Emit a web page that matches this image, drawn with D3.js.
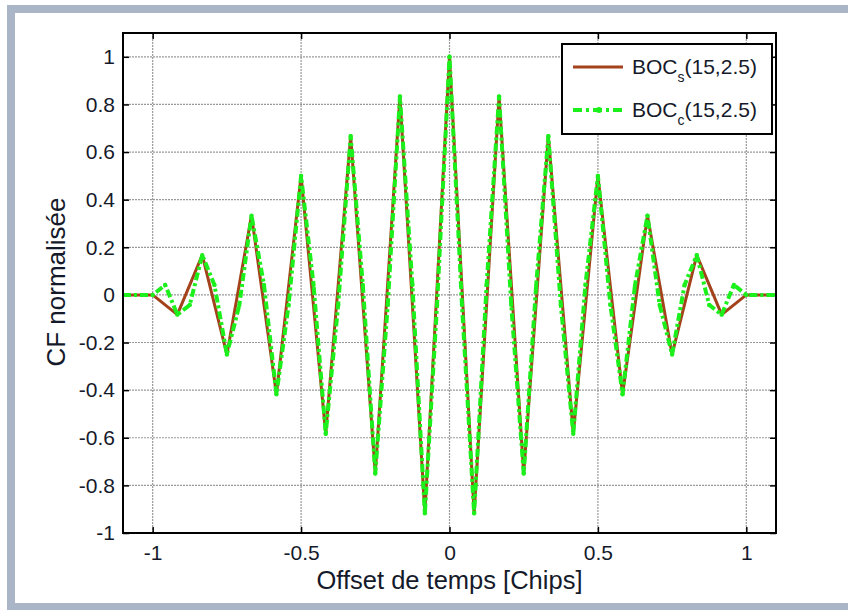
<!DOCTYPE html>
<html>
<head>
<meta charset="utf-8">
<script src="https://cdn.jsdelivr.net/npm/d3@7/dist/d3.min.js"></script>
<style>
  html, body { margin: 0; padding: 0; background: #ffffff; }
  svg { display: block; }
</style>
</head>
<body>
<svg id="chart" width="848" height="610"></svg>
<script>
// Delay axis (chips) and normalised correlation values, BOCs(15,2.5)
const lagSine = [-1.1, -1, -0.917, -0.833, -0.75, -0.667, -0.583, -0.5, -0.417, -0.333, -0.25, -0.167, -0.083,
  0, 0.083, 0.167, 0.25, 0.333, 0.417, 0.5, 0.583, 0.667, 0.75, 0.833, 0.917, 1, 1.1];
const cfSine = [0, 0, -0.083, 0.167, -0.25, 0.333, -0.417, 0.5, -0.583, 0.667, -0.75, 0.833, -0.917,
  1, -0.917, 0.833, -0.75, 0.667, -0.583, 0.5, -0.417, 0.333, -0.25, 0.167, -0.083, 0, 0];

// Delay axis (chips) and normalised correlation values, BOCc(15,2.5)
const lagCos = [-1.1, -1, -0.958, -0.917, -0.875, -0.833, -0.792, -0.75, -0.708, -0.667, -0.625, -0.583, -0.542,
  -0.5, -0.458, -0.417, -0.375, -0.333, -0.292, -0.25, -0.208, -0.167, -0.125, -0.083, -0.042,
  0, 0.042, 0.083, 0.125, 0.167, 0.208, 0.25, 0.292, 0.333, 0.375, 0.417, 0.458, 0.5,
  0.542, 0.583, 0.625, 0.667, 0.708, 0.75, 0.792, 0.833, 0.875, 0.917, 0.958, 1, 1.1];
const cfCos = [0, 0, 0.042, -0.083, -0.042, 0.167, 0.042, -0.25, -0.042, 0.333, 0.042, -0.417, -0.042,
  0.5, 0.042, -0.583, -0.042, 0.667, 0.042, -0.75, -0.042, 0.833, 0.042, -0.917, -0.042,
  1, -0.042, -0.917, 0.042, 0.833, -0.042, -0.75, 0.042, 0.667, -0.042, -0.583, 0.042, 0.5,
  -0.042, -0.417, 0.042, 0.333, -0.042, -0.25, 0.042, 0.167, -0.042, -0.083, 0.042, 0, 0];

const xTicks = [-1, -0.5, 0, 0.5, 1];
const yTicks = [-1, -0.8, -0.6, -0.4, -0.2, 0, 0.2, 0.4, 0.6, 0.8, 1];

const seriesNames = ["s", "c"];

const FONT = "'Liberation Sans', Arial, Helvetica, sans-serif";
const TEXT_COLOR = "#151a2a";
const BROWN = "#a3421b";
const GREEN = "#1cf01c";

const svg = d3.select("#chart");

// Page frame
svg.append("rect").attr("x", 0).attr("y", 0).attr("width", 848).attr("height", 610).attr("fill", "#ffffff");
const frame = "#aab5c8";
svg.append("rect").attr("x", 7).attr("y", 5).attr("width", 841).attr("height", 8).attr("fill", frame);
svg.append("rect").attr("x", 7).attr("y", 5).attr("width", 8).attr("height", 605).attr("fill", frame);
svg.append("rect").attr("x", 7).attr("y", 603).attr("width", 841).attr("height", 7).attr("fill", frame);

const plot = { left: 123, right: 776, top: 33, bottom: 533 };

const x = d3.scaleLinear().domain([-1.1, 1.1]).range([plot.left, plot.right]);
const y = d3.scaleLinear().domain([-1, 1.1]).range([plot.bottom, plot.top]);

// Grid
const grid = svg.append("g").attr("stroke", "#999999").attr("stroke-width", 1.2).attr("stroke-dasharray", "2,1");
grid.selectAll("line.gx").data(xTicks).join("line")
  .attr("x1", d => x(d)).attr("x2", d => x(d))
  .attr("y1", plot.top).attr("y2", plot.bottom);
grid.selectAll("line.gy").data(yTicks).join("line")
  .attr("y1", d => y(d)).attr("y2", d => y(d))
  .attr("x1", plot.left).attr("x2", plot.right);

const fmt = d => (d === 0 ? "0" : String(+d.toFixed(1)));

function styleAxis(g) {
  g.select(".domain").remove();
  g.selectAll(".tick line").attr("stroke", "#000").attr("stroke-width", 1.5);
  g.selectAll(".tick text").attr("fill", TEXT_COLOR).style("font-family", FONT).style("font-size", "21px");
}

svg.append("g").attr("transform", `translate(0,${plot.bottom})`)
  .call(d3.axisBottom(x).tickValues(xTicks).tickFormat(fmt).tickSize(-6).tickPadding(12))
  .call(styleAxis);
svg.append("g").attr("transform", `translate(${plot.left},0)`)
  .call(d3.axisLeft(y).tickValues(yTicks).tickFormat(fmt).tickSize(-6).tickPadding(8))
  .call(styleAxis);
svg.append("g").attr("transform", `translate(0,${plot.top})`)
  .call(d3.axisTop(x).tickValues(xTicks).tickFormat("").tickSize(-6))
  .call(styleAxis);
svg.append("g").attr("transform", `translate(${plot.right},0)`)
  .call(d3.axisRight(y).tickValues(yTicks).tickFormat("").tickSize(-6))
  .call(styleAxis);

// Curves
svg.append("clipPath").attr("id", "plotClip").append("rect")
  .attr("x", plot.left).attr("y", plot.top)
  .attr("width", plot.right - plot.left).attr("height", plot.bottom - plot.top);

const line = d3.line().x(d => x(d[0])).y(d => y(d[1]));
const sineData = lagSine.map((t, i) => [t, cfSine[i]]);
const cosData = lagCos.map((t, i) => [t, cfCos[i]]);

const curves = svg.append("g").attr("clip-path", "url(#plotClip)");
curves.append("path").datum(sineData).attr("d", line)
  .attr("fill", "none").attr("stroke", BROWN).attr("stroke-width", 3)
  .attr("stroke-linejoin", "round");
curves.append("path").datum(cosData).attr("d", line)
  .attr("fill", "none").attr("stroke", GREEN).attr("stroke-width", 4)
  .attr("stroke-dasharray", "8,3,3,3").attr("stroke-linejoin", "round");
curves.selectAll("circle.mk").data(cosData).join("circle")
  .attr("cx", d => x(d[0])).attr("cy", d => y(d[1])).attr("r", 2.2).attr("fill", GREEN);

// Axes box
svg.append("rect").attr("x", plot.left).attr("y", plot.top)
  .attr("width", plot.right - plot.left).attr("height", plot.bottom - plot.top)
  .attr("fill", "none").attr("stroke", "#000").attr("stroke-width", 2);

// Axis titles
svg.append("text").attr("x", (plot.left + plot.right) / 2).attr("y", 589)
  .attr("text-anchor", "middle").attr("fill", TEXT_COLOR)
  .style("font-family", FONT).style("font-size", "25.5px")
  .text("Offset de temps [Chips]");
svg.append("text").attr("transform", "translate(65,282) rotate(-90)")
  .attr("text-anchor", "middle").attr("fill", TEXT_COLOR)
  .style("font-family", FONT).style("font-size", "26px")
  .text("CF normalisée");

// Legend
const legend = svg.append("g");
legend.append("rect").attr("x", 562).attr("y", 44).attr("width", 210).attr("height", 90)
  .attr("fill", "#ffffff").attr("stroke", "#000").attr("stroke-width", 2);
const rows = [
  { sub: seriesNames[0], color: BROWN, dash: null, w: 3, yy: 67 },
  { sub: seriesNames[1], color: GREEN, dash: "9,4,3,4", w: 4, yy: 110 }
];
rows.forEach(r => {
  legend.append("line").attr("x1", 573).attr("x2", 623).attr("y1", r.yy).attr("y2", r.yy)
    .attr("stroke", r.color).attr("stroke-width", r.w)
    .attr("stroke-dasharray", r.dash);
  if (r.dash) {
    legend.append("circle").attr("cx", 599).attr("cy", r.yy).attr("r", 3).attr("fill", r.color);
  }
  const t = legend.append("text").attr("x", 632).attr("y", r.yy + 7)
    .attr("fill", TEXT_COLOR).style("font-family", FONT).style("font-size", "21px");
  t.append("tspan").text("BOC");
  t.append("tspan").attr("dy", 8).style("font-size", "14px").text(r.sub);
  t.append("tspan").attr("dy", -8).text("(15,2.5)");
});
</script>
</body>
</html>
